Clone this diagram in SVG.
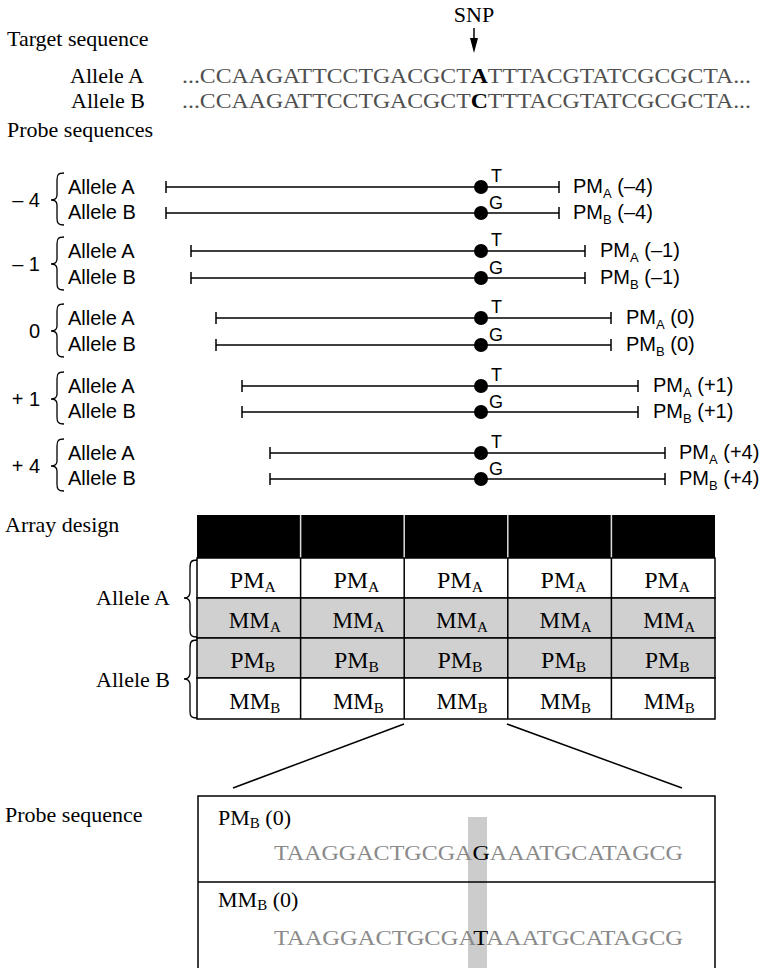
<svg xmlns="http://www.w3.org/2000/svg" width="767" height="968" viewBox="0 0 767 968">
<style>
.serif{font-family:"Liberation Serif","Times New Roman",serif;font-size:22px;fill:#000}
.sans{font-family:"Liberation Sans",Arial,sans-serif;font-size:20px;fill:#000}
.small{font-family:"Liberation Sans",Arial,sans-serif;font-size:18px;fill:#000}
.seq{fill:#505050}
.pseq{fill:#8a8a8a}
.ln{stroke:#000;stroke-width:1.5;fill:none}
.br{stroke:#000;stroke-width:1.3;fill:none}
.cell{font-family:"Liberation Serif","Times New Roman",serif;font-size:23px;fill:#000;text-anchor:middle}
.sub{font-size:15px}
.ssub{font-size:13px}
.gray{fill:#d0d0d0;stroke:#000;stroke-width:1.5}
.white{fill:#fff;stroke:#000;stroke-width:1.5}
</style>
<rect width="767" height="968" fill="#fff"/>

<g id="target">
<text class="serif" x="474" y="22" text-anchor="middle" font-size="20">SNP</text>
<text class="serif" x="7" y="46">Target sequence</text>
<text class="serif" x="144" y="83" text-anchor="end">Allele A</text>
<text class="serif" x="145" y="108" text-anchor="end">Allele B</text>
<text class="serif" x="182" y="83" textLength="569" lengthAdjust="spacingAndGlyphs"><tspan class="seq">...CCAAGATTCCTGACGCT</tspan><tspan font-weight="bold">A</tspan><tspan class="seq">TTTACGTATCGCGCTA...</tspan></text>
<text class="serif" x="182" y="108" textLength="569" lengthAdjust="spacingAndGlyphs"><tspan class="seq">...CCAAGATTCCTGACGCT</tspan><tspan font-weight="bold">C</tspan><tspan class="seq">TTTACGTATCGCGCTA...</tspan></text>
<text class="serif" x="7" y="137">Probe sequences</text>
</g>

<g id="probe-m4">
<text class="sans" x="40" y="207" text-anchor="end">– 4</text>
<path class="br" d="M64,173 C58,173 57,175 57,180 L57,195 C57,198 55,200 51,200 C55,200 57,202 57,205 L57,218 C57,223 58,225 64,225"/>
<text class="sans" x="68" y="194">Allele A</text>
<text class="sans" x="68" y="219">Allele B</text>
<path class="ln" d="M166,187 H559 M166,181 V193 M559,181 V193 M166,213 H559 M166,207 V219 M559,207 V219"/>
<circle cx="481" cy="187" r="7"/><circle cx="481" cy="213" r="7"/>
<text class="small" x="491" y="182">T</text><text class="small" x="489" y="209">G</text>
<text class="sans" x="573" y="193">PM<tspan class="ssub" dy="5">A</tspan><tspan dy="-5"> (–4)</tspan></text>
<text class="sans" x="573" y="219">PM<tspan class="ssub" dy="5">B</tspan><tspan dy="-5"> (–4)</tspan></text>
</g>

<g id="probe-m1">
<text class="sans" x="40" y="271" text-anchor="end">– 1</text>
<path class="br" d="M64,237 C58,237 57,239 57,244 L57,259 C57,262 55,264 51,264 C55,264 57,266 57,269 L57,283 C57,288 58,290 64,290"/>
<text class="sans" x="68" y="258">Allele A</text>
<text class="sans" x="68" y="284">Allele B</text>
<path class="ln" d="M191,251 H585 M191,245 V257 M585,245 V257 M191,278 H585 M191,272 V284 M585,272 V284"/>
<circle cx="481" cy="251" r="7"/><circle cx="481" cy="278" r="7"/>
<text class="small" x="491" y="246">T</text><text class="small" x="489" y="274">G</text>
<text class="sans" x="600" y="257">PM<tspan class="ssub" dy="5">A</tspan><tspan dy="-5"> (–1)</tspan></text>
<text class="sans" x="600" y="284">PM<tspan class="ssub" dy="5">B</tspan><tspan dy="-5"> (–1)</tspan></text>
</g>

<g id="probe-0">
<text class="sans" x="40" y="338" text-anchor="end">0</text>
<path class="br" d="M64,304 C58,304 57,306 57,311 L57,326 C57,329 55,331 51,331 C55,331 57,333 57,336 L57,350 C57,355 58,357 64,357"/>
<text class="sans" x="68" y="325">Allele A</text>
<text class="sans" x="68" y="351">Allele B</text>
<path class="ln" d="M216,318 H611 M216,312 V324 M611,312 V324 M216,345 H611 M216,339 V351 M611,339 V351"/>
<circle cx="481" cy="318" r="7"/><circle cx="481" cy="345" r="7"/>
<text class="small" x="491" y="313">T</text><text class="small" x="489" y="341">G</text>
<text class="sans" x="626" y="324">PM<tspan class="ssub" dy="5">A</tspan><tspan dy="-5"> (0)</tspan></text>
<text class="sans" x="626" y="351">PM<tspan class="ssub" dy="5">B</tspan><tspan dy="-5"> (0)</tspan></text>
</g>

<g id="probe-p1">
<text class="sans" x="40" y="406" text-anchor="end">+ 1</text>
<path class="br" d="M64,372 C58,372 57,374 57,379 L57,394 C57,397 55,399 51,399 C55,399 57,401 57,404 L57,417 C57,422 58,424 64,424"/>
<text class="sans" x="68" y="393">Allele A</text>
<text class="sans" x="68" y="418">Allele B</text>
<path class="ln" d="M242,386 H638 M242,380 V392 M638,380 V392 M242,412 H638 M242,406 V418 M638,406 V418"/>
<circle cx="481" cy="386" r="7"/><circle cx="481" cy="412" r="7"/>
<text class="small" x="491" y="381">T</text><text class="small" x="489" y="408">G</text>
<text class="sans" x="653" y="392">PM<tspan class="ssub" dy="5">A</tspan><tspan dy="-5"> (+1)</tspan></text>
<text class="sans" x="653" y="418">PM<tspan class="ssub" dy="5">B</tspan><tspan dy="-5"> (+1)</tspan></text>
</g>

<g id="probe-p4">
<text class="sans" x="40" y="473" text-anchor="end">+ 4</text>
<path class="br" d="M64,439 C58,439 57,441 57,446 L57,461 C57,464 55,466 51,466 C55,466 57,468 57,471 L57,484 C57,489 58,491 64,491"/>
<text class="sans" x="68" y="460">Allele A</text>
<text class="sans" x="68" y="485">Allele B</text>
<path class="ln" d="M270,453 H665 M270,447 V459 M665,447 V459 M270,479 H665 M270,473 V485 M665,473 V485"/>
<circle cx="481" cy="453" r="7"/><circle cx="481" cy="479" r="7"/>
<text class="small" x="491" y="448">T</text><text class="small" x="489" y="475">G</text>
<text class="sans" x="679" y="459">PM<tspan class="ssub" dy="5">A</tspan><tspan dy="-5"> (+4)</tspan></text>
<text class="sans" x="679" y="485">PM<tspan class="ssub" dy="5">B</tspan><tspan dy="-5"> (+4)</tspan></text>
</g>

<g id="array">
<text class="serif" x="5" y="532">Array design</text>
<rect x="197" y="515" width="518" height="43" fill="#000"/>
<path d="M300.6,515 V558 M404.2,515 V558 M507.8,515 V558 M611.4,515 V558" stroke="#ddd" stroke-width="1.5"/>
<rect class="white" x="197" y="558" width="518" height="40"/>
<rect class="gray" x="197" y="598" width="518" height="40"/>
<rect class="gray" x="197" y="638" width="518" height="40"/>
<rect class="white" x="197" y="678" width="518" height="41"/>
<path class="ln" d="M300.6,558 V719 M404.2,558 V719 M507.8,558 V719 M611.4,558 V719"/>
<g class="cell">
<text x="252.8" y="588" textLength="46" lengthAdjust="spacingAndGlyphs">PM<tspan class="sub" dy="4">A</tspan></text>
<text x="356.4" y="588" textLength="46" lengthAdjust="spacingAndGlyphs">PM<tspan class="sub" dy="4">A</tspan></text>
<text x="460" y="588" textLength="46" lengthAdjust="spacingAndGlyphs">PM<tspan class="sub" dy="4">A</tspan></text>
<text x="563.6" y="588" textLength="46" lengthAdjust="spacingAndGlyphs">PM<tspan class="sub" dy="4">A</tspan></text>
<text x="667.2" y="588" textLength="46" lengthAdjust="spacingAndGlyphs">PM<tspan class="sub" dy="4">A</tspan></text>
<text x="254.8" y="628" textLength="52" lengthAdjust="spacingAndGlyphs">MM<tspan class="sub" dy="4">A</tspan></text>
<text x="358.4" y="628" textLength="52" lengthAdjust="spacingAndGlyphs">MM<tspan class="sub" dy="4">A</tspan></text>
<text x="462" y="628" textLength="52" lengthAdjust="spacingAndGlyphs">MM<tspan class="sub" dy="4">A</tspan></text>
<text x="565.6" y="628" textLength="52" lengthAdjust="spacingAndGlyphs">MM<tspan class="sub" dy="4">A</tspan></text>
<text x="669.2" y="628" textLength="52" lengthAdjust="spacingAndGlyphs">MM<tspan class="sub" dy="4">A</tspan></text>
<text x="252.8" y="668" textLength="45" lengthAdjust="spacingAndGlyphs">PM<tspan class="sub" dy="4">B</tspan></text>
<text x="356.4" y="668" textLength="45" lengthAdjust="spacingAndGlyphs">PM<tspan class="sub" dy="4">B</tspan></text>
<text x="460" y="668" textLength="45" lengthAdjust="spacingAndGlyphs">PM<tspan class="sub" dy="4">B</tspan></text>
<text x="563.6" y="668" textLength="45" lengthAdjust="spacingAndGlyphs">PM<tspan class="sub" dy="4">B</tspan></text>
<text x="667.2" y="668" textLength="45" lengthAdjust="spacingAndGlyphs">PM<tspan class="sub" dy="4">B</tspan></text>
<text x="254.8" y="709" textLength="51" lengthAdjust="spacingAndGlyphs">MM<tspan class="sub" dy="4">B</tspan></text>
<text x="358.4" y="709" textLength="51" lengthAdjust="spacingAndGlyphs">MM<tspan class="sub" dy="4">B</tspan></text>
<text x="462" y="709" textLength="51" lengthAdjust="spacingAndGlyphs">MM<tspan class="sub" dy="4">B</tspan></text>
<text x="565.6" y="709" textLength="51" lengthAdjust="spacingAndGlyphs">MM<tspan class="sub" dy="4">B</tspan></text>
<text x="669.2" y="709" textLength="51" lengthAdjust="spacingAndGlyphs">MM<tspan class="sub" dy="4">B</tspan></text>
</g>
<text class="serif" x="170" y="605" text-anchor="end">Allele A</text>
<path class="br" d="M197,560 C191,560 190,562 190,568 L190,592 C190,596 188,598 184,598 C188,598 190,600 190,604 L190,630 C190,635 191,637 197,637"/>
<text class="serif" x="170" y="687" text-anchor="end">Allele B</text>
<path class="br" d="M197,640 C191,640 190,642 190,648 L190,673 C190,677 188,679 184,679 C188,679 190,681 190,685 L190,711 C190,716 191,718 197,718"/>
</g>

<g id="probe-box">
<text class="serif" x="5" y="822">Probe sequence</text>
<rect x="468" y="817" width="19" height="151" fill="#cccccc"/>
<path class="ln" d="M198,968 V796 H715 V968 M198,882 H715"/>
<text class="serif" x="218" y="825">PM<tspan font-size="15" dy="3">B</tspan><tspan dy="-3"> (0)</tspan></text>
<text class="serif" x="274" y="860" font-size="23" textLength="409" lengthAdjust="spacingAndGlyphs"><tspan class="pseq">TAAGGACTGCGA</tspan><tspan>G</tspan><tspan class="pseq">AAATGCATAGCG</tspan></text>
<text class="serif" x="218" y="907">MM<tspan font-size="15" dy="3">B</tspan><tspan dy="-3"> (0)</tspan></text>
<text class="serif" x="274" y="945" font-size="23" textLength="409" lengthAdjust="spacingAndGlyphs"><tspan class="pseq">TAAGGACTGCGA</tspan><tspan>T</tspan><tspan class="pseq">AAATGCATAGCG</tspan></text>
</g>

<g id="connectors">
<line x1="474" y1="28" x2="474" y2="42" stroke="#000" stroke-width="1.5"/>
<polygon points="470,38 478,38 474,53" fill="#000"/>
<line class="ln" x1="404" y1="724" x2="233" y2="788"/>
<line class="ln" x1="507" y1="724" x2="682" y2="788"/>
</g>
</svg>
